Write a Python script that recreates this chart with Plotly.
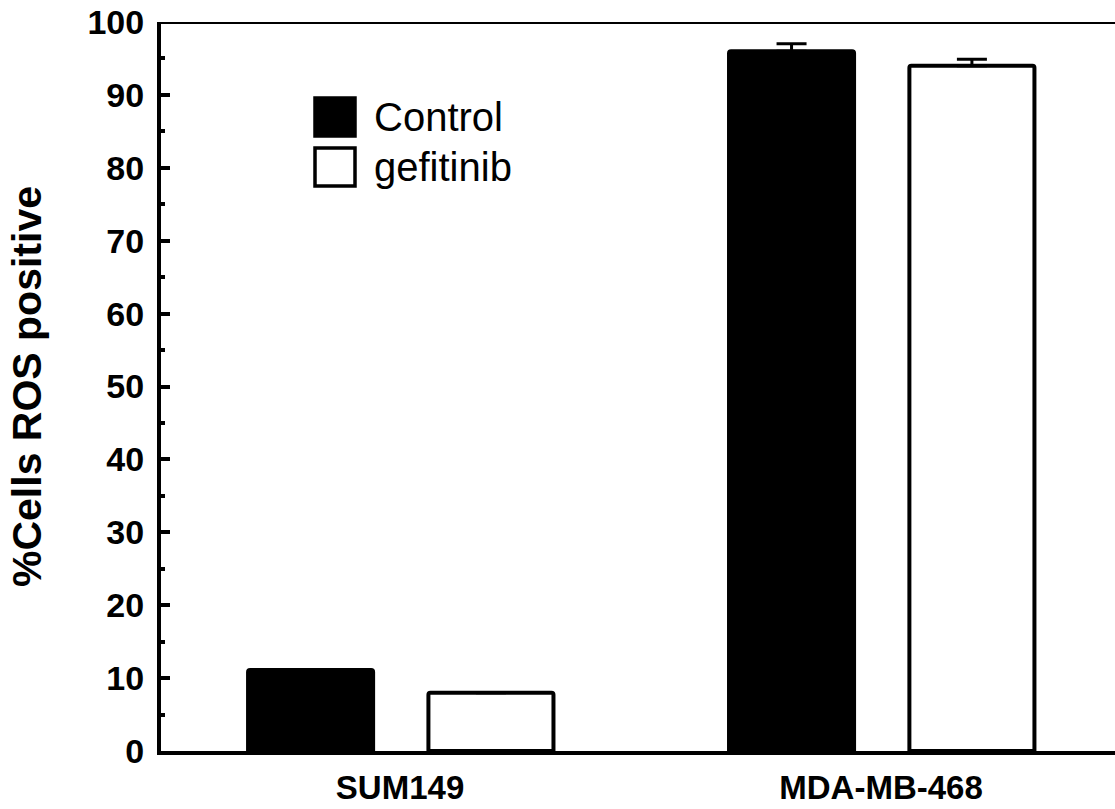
import plotly.graph_objects as go

categories = ["SUM149", "MDA-MB-468"]
control_vals = [11.1, 96.0]
control_err = [0.0, 1.0]
gef_vals = [8.0, 94.0]
gef_err = [0.0, 0.9]
series_names = ["Control", "gefitinib"]
ytick_vals = [0, 10, 20, 30, 40, 50, 60, 70, 80, 90, 100]

FONT = "Liberation Sans, Arial, sans-serif"

fig = go.Figure()
fig.add_trace(go.Bar(
    x=categories, y=control_vals, name=series_names[0],
    width=0.26, offset=-0.316,
    marker=dict(color="black", line=dict(color="black", width=4), cornerradius=2),
    error_y=dict(type="data", array=control_err, arrayminus=[0, 0], symmetric=False,
                 color="black", thickness=3, width=15),
    showlegend=False,
))
fig.add_trace(go.Bar(
    x=categories, y=gef_vals, name=series_names[1],
    width=0.26, offset=0.059,
    marker=dict(color="white", line=dict(color="black", width=4), cornerradius=2),
    error_y=dict(type="data", array=gef_err, arrayminus=[0, 0], symmetric=False,
                 color="black", thickness=3, width=15),
    showlegend=False,
))

# top frame line
fig.add_shape(type="line", xref="paper", yref="y", x0=0, x1=1, y0=100, y1=100,
              line=dict(color="black", width=4))

# manual legend
W, H = 1115, 809
L, R, T, B = 161, 0, 22, 58
pw, ph = W - L - R, H - T - B
def px2paper(x, y):
    return (x - L) / pw, (H - B - y) / ph

legend_items = [(series_names[0], "black", 117), (series_names[1], "white", 167)]
for name, fill, yc in legend_items:
    x0, y0 = px2paper(315, yc - 19)
    x1, y1 = px2paper(355, yc + 19)
    fig.add_shape(type="rect", xref="paper", yref="paper", x0=x0, x1=x1, y0=y1, y1=y0,
                  line=dict(color="black", width=3.5), fillcolor=fill)
    tx, ty = px2paper(372, yc)
    fig.add_annotation(xref="paper", yref="paper", x=tx, y=ty, text=name,
                       showarrow=False, xanchor="left", yanchor="middle",
                       font=dict(family=FONT, size=40, color="black"))

fig.update_layout(
    width=W, height=H,
    margin=dict(l=L, r=R, t=T, b=B, autoexpand=False),
    plot_bgcolor="white", paper_bgcolor="white",
    barmode="group",
    font=dict(family=FONT, color="black"),
)
fig.update_xaxes(
    range=[-0.497, 1.4865], showgrid=False, zeroline=False, automargin=False,
    showline=True, linecolor="black", linewidth=4,
    ticks="", ticklabelstandoff=4,
    tickfont=dict(family=FONT, size=33, weight="bold", color="black"),
)
fig.update_yaxes(
    range=[0, 100], showgrid=False, zeroline=False, automargin=False,
    showline=True, linecolor="black", linewidth=4,
    tickvals=ytick_vals, ticks="inside", ticklen=9, tickwidth=4, tickcolor="black",
    minor=dict(dtick=5, tick0=0, ticks="inside", ticklen=4, tickwidth=4, tickcolor="black"),
    ticklabelstandoff=6,
    tickfont=dict(family=FONT, size=34, weight="bold", color="black"),
    title=dict(text="%Cells ROS positive", standoff=34,
               font=dict(family=FONT, size=41, weight="bold", color="black")),
)

fig.write_html("out.html")
